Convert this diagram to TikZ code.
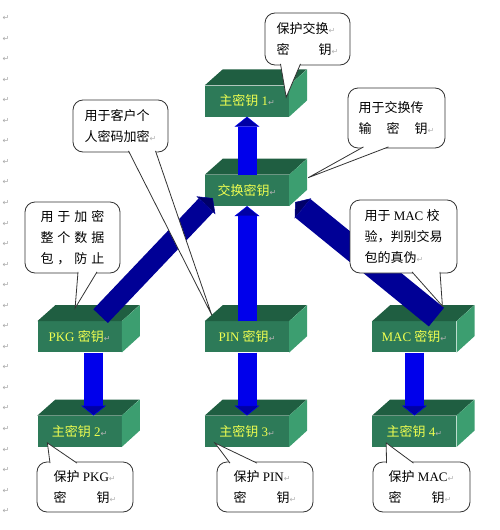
\documentclass[tikz,border=0pt]{standalone}
\usepackage{fontspec}
\setmainfont{Liberation Serif}
\newfontfamily\cjk{Noto Sans CJK SC}
\newfontfamily\dejavu{DejaVu Sans}
\usetikzlibrary{positioning,calc,arrows.meta}
\definecolor{keyfront}{RGB}{45,122,88}
\definecolor{keytop}{RGB}{31,94,65}
\definecolor{keyside}{RGB}{60,158,112}
\definecolor{keytext}{RGB}{240,255,80}
\definecolor{keyblue}{RGB}{0,0,235}
\definecolor{keynavy}{RGB}{0,0,150}
\newcommand{\zh}[1]{{\cjk #1}}
\newcommand{\ret}{{\dejavu\fontsize{8}{8}\selectfont\textcolor{gray!60}{↵}}}

\begin{document}
\begin{tikzpicture}[
    x=1pt, y=-1pt,
    keybox/.style={minimum width=84pt, minimum height=31pt, inner sep=0pt, fill=keyfront, text=keytext, font=\fontsize{13}{15}\selectfont},
    bubble/.style={draw=black!80, line width=0.8pt, rounded corners=10pt, fill=white, align=left, inner sep=0pt, font=\fontsize{13}{21}\selectfont},
    pointer/.style={draw=black!80, line width=0.8pt, fill=white},
    parmark/.style={inner sep=0pt, text=gray!70, font=\dejavu\fontsize{8}{8}\selectfont},
    vertarr/.style={draw=keyblue, line width=19pt, -{Triangle[width=25pt, length=10pt, line width=0.5pt, fill=keyblue!70!black]}},
    diagarr/.style={draw=keynavy, line width=20pt, -{Triangle[width=26pt, length=10pt, line width=0.5pt, fill=keynavy!70!black]}}
]
\useasboundingbox (0,0) rectangle (500,530);

% paragraph marks on the left margin
\foreach \i in {0,...,24}
    \node[parmark] (pm\i) at (6, 18+20.55*\i) {↵};

% key boxes
\node[keybox] (k1) at (247,101) {\zh{主密钥} 1\ret};
\node[keybox, below=58pt of k1] (kx) {\zh{交换密钥}\ret};
\node[keybox, below=115pt of kx] (pin) {PIN \zh{密钥}\ret};
\node[keybox, left=83pt of pin] (pkg) {PKG \zh{密钥}\ret};
\node[keybox, right=83pt of pin] (mac) {MAC \zh{密钥}\ret};
\node[keybox, below=63pt of pkg] (m2) {\zh{主密钥} 2\ret};
\node[keybox, below=63pt of pin] (m3) {\zh{主密钥} 3\ret};
\node[keybox, below=63pt of mac] (m4) {\zh{主密钥} 4\ret};

% top and side faces
\foreach \n in {k1,kx,pkg,pin,mac,m2,m3,m4} {
    \fill[keytop] (\n.north west) -- ++(18,-16) -- ++(84,0) -- (\n.north east) -- cycle;
    \fill[keyside] (\n.north east) -- ++(18,-16) -- ++(0,31) -- (\n.south east) -- cycle;
}

% arrows
\draw[vertarr] (kx.north) -- (k1.south);
\draw[vertarr] (pin.north) -- (kx.south);
\draw[diagarr] ($(pkg.north)+(21,-5)$) -- ($(kx.south west)+(8,-8)$);
\draw[diagarr, line width=24pt] ($(mac.north)+(22,-4)$) -- ($(kx.south east)+(6,-4)$);
\draw[vertarr] ($(pkg.south)+(14,0)$) -- ($(m2.north)+(14,0)$);
\draw[vertarr] (pin.south) -- (m3.north);
\draw[vertarr] (mac.south) -- (m4.north);

% callouts
\node[bubble, minimum width=85pt, minimum height=52pt] (c1) at (307.5,39) {\zh{保护交换}\ret\\\zh{密}\hspace{29pt}\zh{钥}\ret};
\draw[pointer] ($(c1.south)+(-27,-1.5)$) -- ($(k1.north east)+(-3,12)$) -- ($(c1.south)+(-7,-1.5)$);

\node[bubble, minimum width=95pt, minimum height=52pt] (c2) at (120.5,126) {\zh{用于客户个}\\\zh{人密码加密}\ret};
\draw[pointer] ($(c2.south)+(8,-1.5)$) -- ($(pin.north west)+(7,-6)$) -- ($(c2.south)+(35,-1.5)$);

\node[bubble, minimum width=97pt, minimum height=60pt] (c3) at (396.5,118) {\zh{用于交换传}\\\zh{输}\hspace{15pt}\zh{密}\hspace{15pt}\zh{钥}\ret};
\draw[pointer] ($(c3.south)+(-33,-1.5)$) -- ($(kx.north east)+(19,3)$) -- ($(c3.south)+(-8,-1.5)$);

\node[bubble, minimum width=95pt, minimum height=71pt] (c4) at (72.5,237.5) {\zh{用\hspace{4pt}于\hspace{4pt}加\hspace{4pt}密}\\\zh{整\hspace{4pt}个\hspace{4pt}数\hspace{4pt}据}\\\zh{包\hspace{4pt}，\hspace{4pt}防\hspace{4pt}止}};
\draw[pointer] ($(c4.south)+(5.5,-1.5)$) -- ($(pkg.north)+(-4.5,-13)$) -- ($(c4.south)+(24.5,-1.5)$);

\node[bubble, minimum width=107pt, minimum height=73pt] (c5) at (403.5,236.5) {\zh{用于} MAC \zh{校}\\\zh{验，判别交易}\\\zh{包的真伪}\ret};
\draw[pointer] ($(c5.south)+(8.5,-1.5)$) -- ($(mac.north)+(28,-15)$) -- ($(c5.south)+(36.5,-1.5)$);

\node[bubble, minimum width=96pt, minimum height=50pt] (c6) at (85,487) {\zh{保护} PKG\ret\\\zh{密}\hspace{30pt}\zh{钥}\ret};
\draw[pointer] ($(c6.north)+(-35,1.5)$) -- ($(m2.south west)+(10,-4)$) -- ($(c6.north)+(-8,1.5)$);

\node[bubble, minimum width=96pt, minimum height=50pt] (c7) at (265,487) {\zh{保护} PIN\ret\\\zh{密}\hspace{30pt}\zh{钥}\ret};
\draw[pointer] ($(c7.north)+(-35,1.5)$) -- ($(m3.south west)+(10,-4)$) -- ($(c7.north)+(-8,1.5)$);

\node[bubble, minimum width=97pt, minimum height=50pt] (c8) at (421.5,487) {\zh{保护} MAC\ret\\\zh{密}\hspace{30pt}\zh{钥}\ret};
\draw[pointer] ($(c8.north)+(-35,1.5)$) -- ($(m4.south west)+(14,-4)$) -- ($(c8.north)+(-8,1.5)$);
\end{tikzpicture}
\end{document}
